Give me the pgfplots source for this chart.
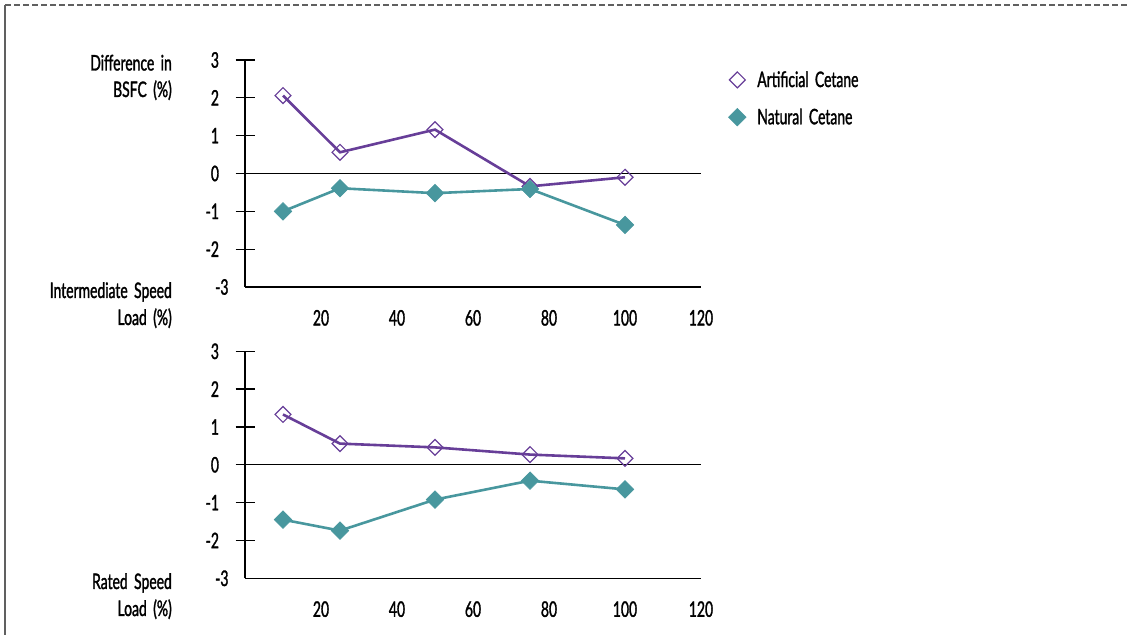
\documentclass[border=0pt]{standalone}
\usepackage{fontspec}
\setmainfont{Lato}[FakeStretch=0.65,FakeBold=1.4,WordSpace=1.8]
\usepackage{pgfplots}
\pgfplotsset{compat=1.18}
\definecolor{artc}{RGB}{103,62,152}
\definecolor{natc}{RGB}{72,151,158}
\newcommand{\fsz}{\fontsize{21.5}{23}\selectfont}
\pgfplotsset{
  myax/.style={
    scale only axis, width=456bp, height=227bp,
    xmin=0, xmax=120, ymin=-3, ymax=3,
    axis x line=bottom, axis y line=left,
    axis line style={-, line width=1.3bp, black},
    xtick={20,40,...,120}, major x tick style={draw=none},
    ytick={-2,...,3}, extra y ticks={-3},
    extra y tick style={major tick length=0pt},
    ytick style={line width=1.3bp, black},
    tick align=center, major tick length=19bp,
    /pgf/number format/assume math mode=true,
    ticklabel style={font=\fsz},
    yticklabel style={anchor=east, xshift=-13bp},
    extra y tick label={},
    xticklabel style={anchor=north, yshift=-10bp},
    clip=false,
  },
  art/.style={artc, line width=2.6bp, mark=square, mark size=5.6bp,
    mark options={rotate=45, fill=white, draw=artc, line width=1.2bp}},
  nat/.style={natc, line width=2.6bp, mark=square*, mark size=6.2bp,
    mark options={rotate=45, fill=natc, draw=natc, line width=0.6bp}},
}
\begin{document}
\begin{tikzpicture}[x=1bp,y=1bp]
\path (0,0) rectangle (1132,635);
\draw[gray!75!black, line width=1.3bp, dash pattern=on 6bp off 3bp] (5,630) -- (1127,630);
\draw[gray!75!black, line width=1.3bp] (5,630) -- (5,0);

\begin{scope}[font=\fsz]
\node[anchor=base east, inner sep=0] at (172,564.5) {Difference in};
\node[anchor=base east, inner sep=0] at (172,538) {BSFC (\%)};
\node[anchor=base east, inner sep=0] at (172,337) {Intermediate Speed};
\node[anchor=base east, inner sep=0] at (172,310) {Load (\%)};
\node[anchor=base east, inner sep=0] at (172,46) {Rated Speed};
\node[anchor=base east, inner sep=0] at (172,19) {Load (\%)};
\end{scope}

\begin{axis}[myax, at={(245bp,348bp)}, anchor=south west,
  legend style={at={(1.06,0.96)}, anchor=north west, draw=none, fill=none,
    inner sep=0pt, font=\fsz, row sep=16bp,
    legend cell align=left},
  legend image code/.code={\path[draw=none, fill=none] (0bp,-6bp) rectangle (24bp,6bp);
    \draw[#1] plot[only marks] coordinates {(6bp,0bp)};}]
\addplot[black, line width=0.9bp, forget plot] coordinates {(0,0) (120,0)};
\addplot[art] coordinates {(10,2.06) (25,0.56) (50,1.16) (75,-0.34) (100,-0.10)};
\addlegendentry{Artificial Cetane}
\addplot[nat] coordinates {(10,-1.00) (25,-0.39) (50,-0.52) (75,-0.41) (100,-1.36)};
\addlegendentry{Natural Cetane}
\end{axis}

\begin{axis}[myax, at={(245bp,56.7bp)}, anchor=south west]
\addplot[black, line width=0.9bp, forget plot] coordinates {(0,0) (120,0)};
\addplot[art] coordinates {(10,1.33) (25,0.56) (50,0.46) (75,0.27) (100,0.17)};
\addplot[nat] coordinates {(10,-1.45) (25,-1.74) (50,-0.92) (75,-0.42) (100,-0.65)};
\end{axis}
\end{tikzpicture}
\end{document}
